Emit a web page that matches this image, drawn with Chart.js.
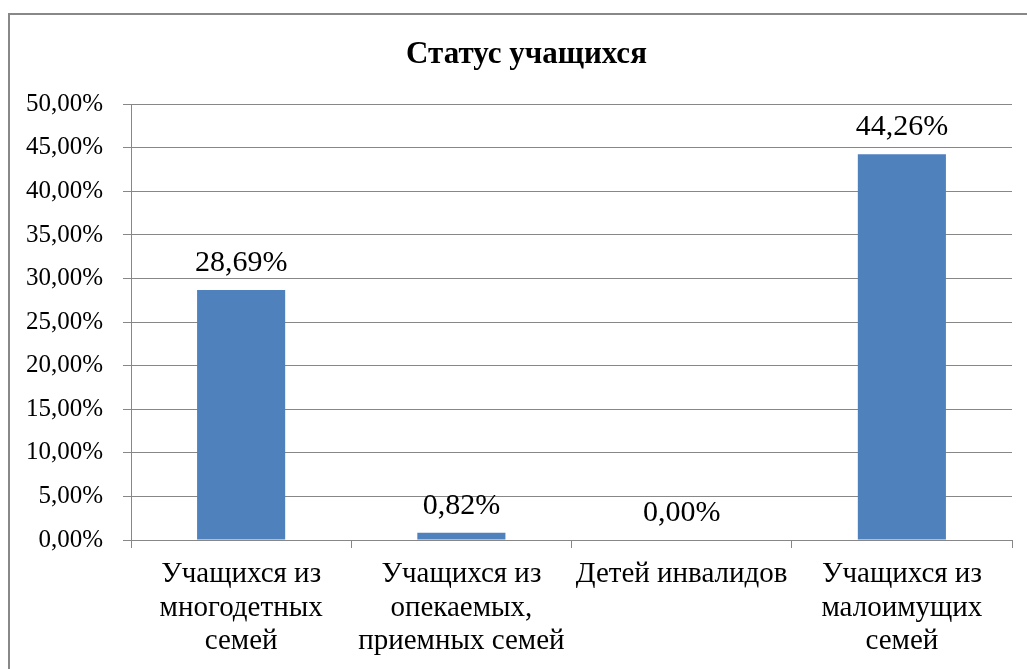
<!DOCTYPE html>
<html>
<head>
<meta charset="utf-8">
<script src="https://cdn.jsdelivr.net/npm/chart.js@4/dist/chart.umd.min.js"></script>
<style>
  body { margin: 0; background: #fff; }
  .frame {
    position: absolute; left: 8px; top: 13px; width: 1040px; height: 700px;
    border: 2px solid #888; box-sizing: border-box;
  }
  .wrap { position: absolute; left: 0; top: 0; width: 1027px; height: 669px; }
</style>
</head>
<body>
<div class="frame"></div>
<div class="wrap"><canvas class="status-chart"></canvas></div>
<script>
const categories = [
  ["Учащихся из", "многодетных", "семей"],
  ["Учащихся из", "опекаемых,", "приемных семей"],
  ["Детей инвалидов"],
  ["Учащихся из", "малоимущих", "семей"],
];
const shares = [28.69, 0.82, 0.0, 44.26];
const yMax = 50;
const yStep = 5;

const fmt = (v) => v.toFixed(2).replace(".", ",") + "%";
const serif = "'Liberation Serif', 'Times New Roman', serif";

// подписи значений над столбцами
const valueLabels = {
  id: "valueLabels",
  afterDatasetsDraw(chart) {
    const ctx = chart.ctx;
    const meta = chart.getDatasetMeta(0);
    ctx.save();
    ctx.font = "30px " + serif;
    ctx.fillStyle = "#000";
    ctx.textAlign = "center";
    ctx.textBaseline = "alphabetic";
    meta.data.forEach((bar, i) => {
      ctx.fillText(fmt(shares[i]), bar.x, bar.y - 19);
    });
    ctx.restore();
  },
};

const ctx = document.querySelector(".status-chart");

new Chart(ctx, {
  type: "bar",
  data: {
    labels: categories,
    datasets: [
      {
        label: "Статус",
        data: shares,
        backgroundColor: "#4f81bd",
        categoryPercentage: 1,
        barPercentage: 0.4,
      },
    ],
  },
  options: {
    responsive: true,
    maintainAspectRatio: false,
    animation: false,
    layout: {
      // заголовок центрирован по рамке, а не по области графика
      padding: { left: 24, right: -2, top: 20, bottom: 0 },
    },
    scales: {
      x: {
        grid: {
          drawOnChartArea: false,
          offset: true,
          color: "#878787",
          tickLength: 8,
        },
        border: { color: "#878787" },
        ticks: {
          color: "#000",
          font: { family: serif, size: 29, lineHeight: 1.15 },
          padding: 10,
          maxRotation: 0,
          autoSkip: false,
        },
        afterFit(scale) {
          scale.height = 129;
        },
      },
      y: {
        min: 0,
        max: yMax,
        grid: {
          color: "#878787",
          tickLength: 8,
        },
        border: { color: "#878787" },
        ticks: {
          stepSize: yStep,
          color: "#000",
          padding: 20,
          font: { family: serif, size: 25 },
          callback: (v) => fmt(v),
        },
        afterFit(scale) {
          scale.width = 107;
        },
      },
      // пустая ось справа — только отступ
      yPad: {
        position: "right",
        min: 0,
        max: yMax,
        grid: { display: false },
        border: { display: false },
        ticks: { display: false },
        afterFit(scale) {
          scale.width = 17;
        },
      },
    },
    plugins: {
      legend: { display: false },
      tooltip: { enabled: false },
      title: {
        display: true,
        text: "Статус учащихся",
        color: "#000",
        font: { family: serif, size: 31, weight: "bold", lineHeight: 1.2 },
        padding: { top: 16, bottom: 31 },
      },
    },
  },
  plugins: [valueLabels],
});
</script>
</body>
</html>
